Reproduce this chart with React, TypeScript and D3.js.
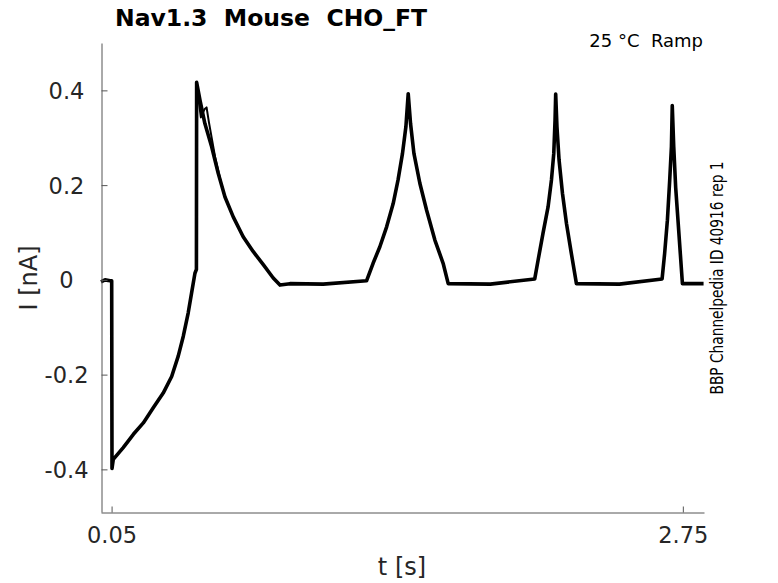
import React, { useRef, useEffect } from 'react';
import * as d3 from 'd3';

// ramp protocol, current (t in s, I in nA)
const traceTime = [
  // holding, step down, ramp
  0, 0.019, 0.043, 0.0505, 0.052, 0.058, 0.105, 0.153, 0.2, 0.247, 0.294,
  0.334, 0.365, 0.389, 0.412, 0.428, 0.444, 0.451,
  // peak 1 and decay
  0.452, 0.468, 0.491, 0.523, 0.554, 0.586, 0.625, 0.672, 0.719, 0.767,
  0.814, 0.846, 0.893, 1.05, 1.255,
  // peak 2
  1.286, 1.318, 1.35, 1.381, 1.404, 1.425, 1.441, 1.452, 1.463, 1.479,
  1.507, 1.539, 1.578, 1.617, 1.641, 1.84, 2.05,
  // peak 3
  2.066, 2.089, 2.113, 2.129, 2.14, 2.146, 2.149, 2.155, 2.165, 2.181, 2.2,
  2.223, 2.247, 2.45, 2.652,
  // peak 4
  2.664, 2.677, 2.688, 2.696, 2.7, 2.707, 2.716, 2.727, 2.738, 2.748, 2.848,
];
const traceCurrent = [
  -0.004, 0.0, -0.002, -0.002, -0.398, -0.379, -0.354, -0.326, -0.302,
  -0.27, -0.239, -0.204, -0.161, -0.119, -0.07, -0.028, 0.014, 0.022,
  0.417, 0.379, 0.33, 0.281, 0.225, 0.175, 0.133, 0.091, 0.06, 0.032, 0.004,
  -0.011, -0.008, -0.009, -0.002,
  0.035, 0.07, 0.112, 0.161, 0.211, 0.267, 0.323, 0.393, 0.33, 0.267, 0.204,
  0.147, 0.084, 0.035, -0.008, -0.009, 0.002,
  0.042, 0.098, 0.154, 0.211, 0.267, 0.337, 0.392, 0.323, 0.253, 0.183,
  0.119, 0.056, -0.008, -0.009, 0.002,
  0.056, 0.126, 0.211, 0.281, 0.368, 0.281, 0.196, 0.126, 0.056, -0.008,
  -0.008,
];
// second repetition, visible only where it departs from the first
const rep2Time = [0.455, 0.472, 0.489, 0.499, 0.51, 0.539, 0.57];
const rep2Current = [0.4, 0.343, 0.36, 0.364, 0.333, 0.26, 0.2];

const xTicks = [0.05, 2.75];
const yTicks = [-0.4, -0.2, 0, 0.2, 0.4];
const xDomain = [0, 2.85];
const yDomain = [-0.49, 0.5];

const App = () => {
  const Svg = useRef<SVGSVGElement>(null);
  useEffect(() => {
    const svg = d3.select(Svg.current);
    svg.selectAll('*').remove();

    const left = 101;
    const right = 704;
    const top = 43;
    const bottom = 512;
    const font = "'DejaVu Sans', sans-serif";

    const x = d3.scaleLinear().domain(xDomain).range([left, right]);
    const y = d3.scaleLinear().domain(yDomain).range([bottom, top]);

    const drawTrace = (ts: number[], vs: number[], w: number) => {
      const path = d3
        .line<number>()
        .x((d) => x(d))
        .y((d, i) => y(vs[i]));
      svg
        .append('path')
        .attr('d', path(ts))
        .attr('fill', 'none')
        .attr('stroke', '#000')
        .attr('stroke-width', w)
        .attr('stroke-linejoin', 'round');
    };
    drawTrace(traceTime, traceCurrent, 3.6);
    drawTrace(rep2Time, rep2Current, 2);

    // axes (box off, ticks pointing in)
    const yAxis = d3
      .axisLeft(y)
      .tickValues(yTicks)
      .tickSizeInner(-6)
      .tickSizeOuter(0)
      .tickFormat((d) => String(d));
    const gy = svg.append('g').attr('transform', `translate(${left + 0.5},0)`).call(yAxis);
    gy.selectAll('path, line').attr('stroke', '#555');
    gy.selectAll('text')
      .attr('x', 66 - left)
      .attr('dy', '0.36em')
      .attr('text-anchor', 'middle')
      .attr('fill', '#262626')
      .style('font-family', font)
      .style('font-size', '22.5px');

    const xAxis = d3
      .axisBottom(x)
      .tickValues(xTicks)
      .tickSizeInner(-6)
      .tickSizeOuter(0)
      .tickFormat((d) => String(d));
    const gx = svg.append('g').attr('transform', `translate(0,${bottom + 0.5})`).call(xAxis);
    gx.selectAll('path, line').attr('stroke', '#555');
    gx.selectAll('text')
      .attr('y', 30)
      .attr('dy', 0)
      .attr('fill', '#262626')
      .style('font-family', font)
      .style('font-size', '22.5px');

    // labels
    svg
      .append('text')
      .attr('x', 115)
      .attr('y', 26)
      .attr('fill', '#000')
      .style('font-family', font)
      .style('font-weight', 'bold')
      .style('font-size', '23.5px')
      .style('white-space', 'pre')
      .text('Nav1.3  Mouse  CHO_FT');

    svg
      .append('text')
      .attr('x', 703)
      .attr('y', 47)
      .attr('text-anchor', 'end')
      .attr('fill', '#000')
      .style('font-family', font)
      .style('font-size', '18px')
      .style('white-space', 'pre')
      .text('25 °C  Ramp');

    svg
      .append('text')
      .attr('transform', 'translate(723,278) rotate(-90)')
      .attr('text-anchor', 'middle')
      .attr('textLength', 233)
      .attr('lengthAdjust', 'spacingAndGlyphs')
      .attr('fill', '#000')
      .style('font-family', font)
      .style('font-size', '17px')
      .text('BBP Channelpedia ID 40916 rep 1');

    svg
      .append('text')
      .attr('transform', 'translate(37,278) rotate(-90)')
      .attr('text-anchor', 'middle')
      .attr('fill', '#262626')
      .style('font-family', font)
      .style('font-size', '24px')
      .text('I [nA]');

    svg
      .append('text')
      .attr('x', 402)
      .attr('y', 575)
      .attr('text-anchor', 'middle')
      .attr('fill', '#262626')
      .style('font-family', font)
      .style('font-size', '24px')
      .text('t [s]');
  }, []);
  return (
    <svg
      ref={Svg}
      width={778}
      height={583}
      style={{ position: 'absolute', left: 0, top: 0, background: '#fff' }}
    />
  );
};

export default App;
